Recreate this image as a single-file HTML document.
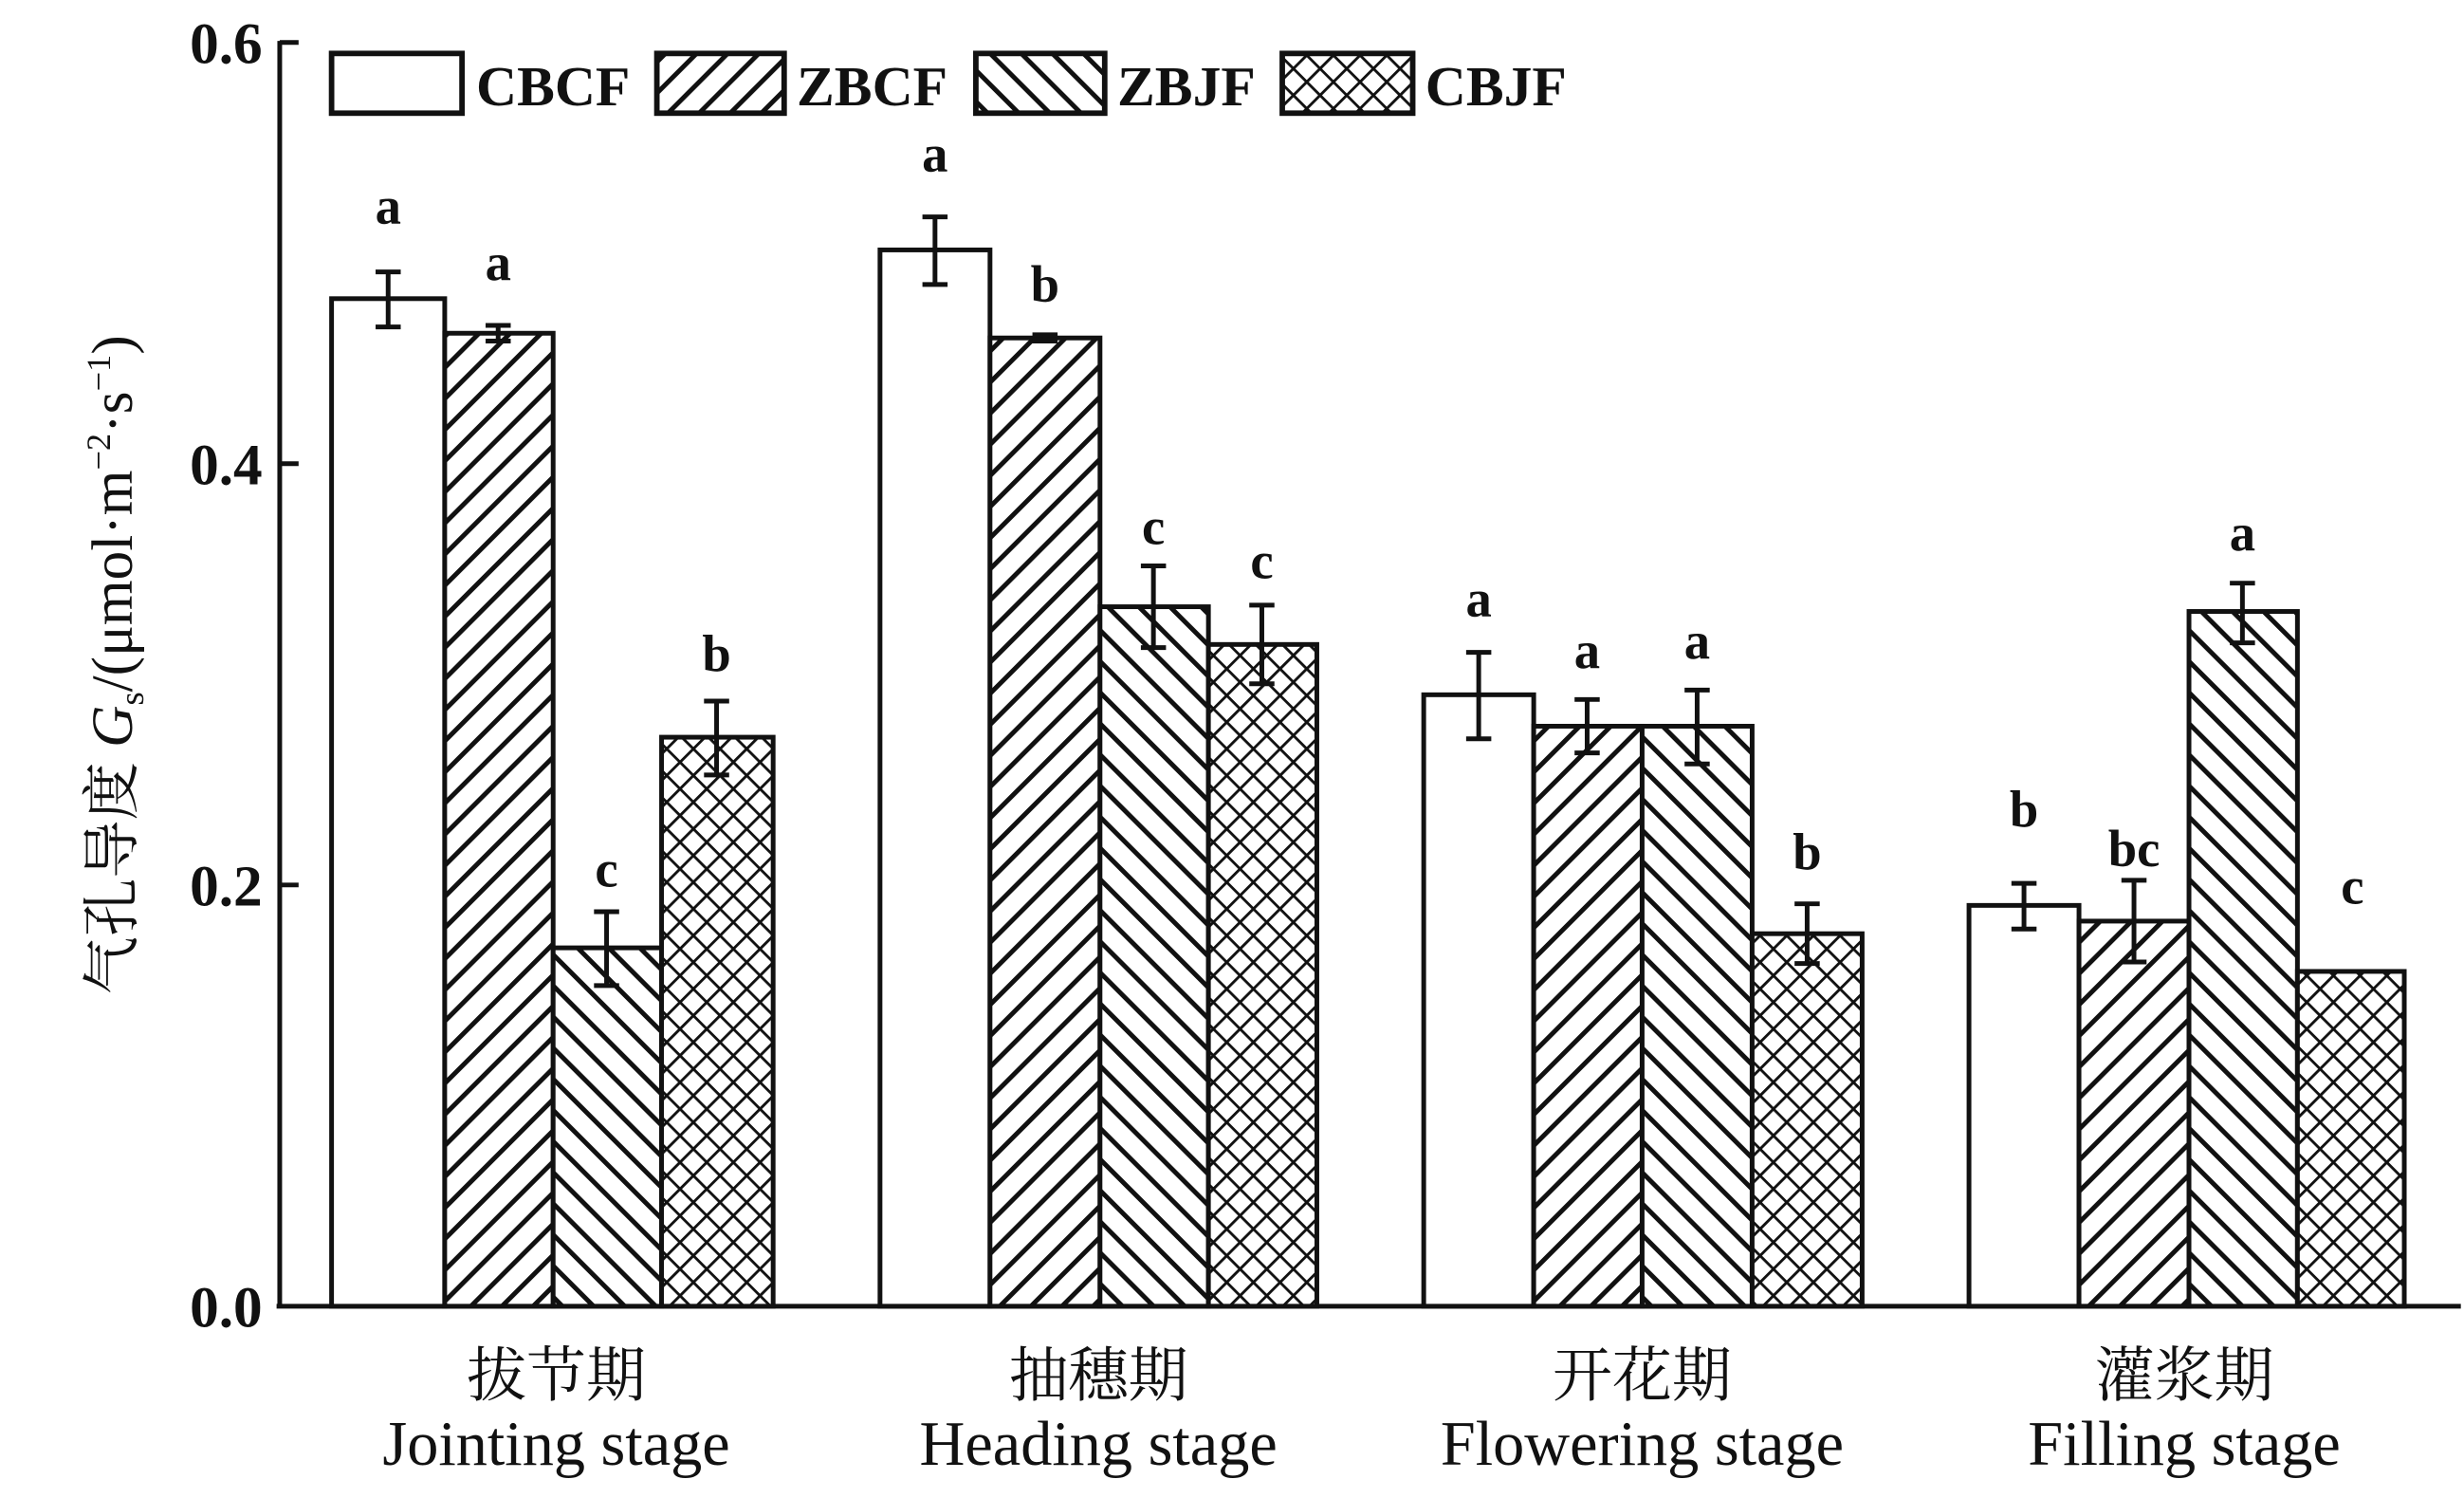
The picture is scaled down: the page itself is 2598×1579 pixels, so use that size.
<!DOCTYPE html>
<html><head><meta charset="utf-8"><style>html,body{margin:0;padding:0;background:#fff}svg{display:block}</style></head><body>
<svg width="2598" height="1579" viewBox="0 0 1568 953" xmlns="http://www.w3.org/2000/svg" font-family="'Liberation Serif','Noto Serif CJK SC',serif">
<defs>
<pattern id="fw" patternUnits="userSpaceOnUse" width="14" height="14" patternTransform="rotate(45)"><rect width="14" height="14" fill="#fff"/><line x1="0" y1="0" x2="0" y2="14" stroke="#111" stroke-width="6"/></pattern>
<pattern id="bw" patternUnits="userSpaceOnUse" width="14" height="14" patternTransform="rotate(-45)"><rect width="14" height="14" fill="#fff"/><line x1="0" y1="0" x2="0" y2="14" stroke="#111" stroke-width="6"/></pattern>
<pattern id="xw" patternUnits="userSpaceOnUse" width="12" height="12" patternTransform="rotate(45)"><rect width="12" height="12" fill="#fff"/><line x1="0" y1="0" x2="0" y2="12" stroke="#111" stroke-width="3.5"/><line x1="0" y1="0" x2="12" y2="0" stroke="#111" stroke-width="3.5"/></pattern>
</defs>
<rect width="1568" height="953" fill="#fff"/>
<g stroke="#111" stroke-width="3" fill="none">
<line x1="178" y1="26" x2="178" y2="832"/>
<line x1="176" y1="831" x2="1566" y2="831"/>
<line x1="178" y1="27" x2="190" y2="27"/><line x1="178" y1="295" x2="190" y2="295"/><line x1="178" y1="563" x2="190" y2="563"/>
</g>
<g font-size="37" font-weight="bold" text-anchor="end" fill="#111">
<text x="167" y="40">0.6</text><text x="167" y="308">0.4</text><text x="167" y="576">0.2</text><text x="167" y="844">0.0</text>
</g>
<text transform="translate(84,423) rotate(-90)" text-anchor="middle" font-size="37" fill="#111">气孔导度 <tspan font-style="italic">G</tspan><tspan font-size="22" dy="7">s</tspan><tspan dy="-7">/(μmol·m</tspan><tspan font-size="22" dy="-14">−2</tspan><tspan dy="14">·s</tspan><tspan font-size="22" dy="-14">−1</tspan><tspan dy="14">)</tspan></text>
<!-- legend -->
<g stroke="#111" stroke-width="3.5">
<rect x="211" y="34" width="83" height="38" fill="#fff"/>
<rect x="418" y="34" width="81" height="38" fill="url(#fw)"/>
<rect x="621" y="34" width="82" height="38" fill="url(#bw)"/>
<rect x="816" y="34" width="83" height="38" fill="url(#xw)"/>
</g>
<g font-size="36" font-weight="bold" fill="#111">
<text x="303" y="67">CBCF</text><text x="507" y="67">ZBCF</text><text x="711" y="67">ZBJF</text><text x="907" y="67">CBJF</text>
</g>
<!-- bars -->
<g stroke="#111" stroke-width="3">
<rect x="211" y="190" width="72" height="641" fill="#fff"/>
<rect x="283" y="212" width="69" height="619" fill="url(#fw)"/>
<rect x="352" y="603" width="69" height="228" fill="url(#bw)"/>
<rect x="421" y="469" width="71" height="362" fill="url(#xw)"/>
<rect x="560" y="159" width="70" height="672" fill="#fff"/>
<rect x="630" y="215" width="70" height="616" fill="url(#fw)"/>
<rect x="700" y="386" width="69" height="445" fill="url(#bw)"/>
<rect x="769" y="410" width="69" height="421" fill="url(#xw)"/>
<rect x="906" y="442" width="70" height="389" fill="#fff"/>
<rect x="976" y="462" width="69" height="369" fill="url(#fw)"/>
<rect x="1045" y="462" width="70" height="369" fill="url(#bw)"/>
<rect x="1115" y="594" width="70" height="237" fill="url(#xw)"/>
<rect x="1253" y="576" width="70" height="255" fill="#fff"/>
<rect x="1323" y="586" width="70" height="245" fill="url(#fw)"/>
<rect x="1393" y="389" width="69" height="442" fill="url(#bw)"/>
<rect x="1462" y="618" width="68" height="213" fill="url(#xw)"/>
</g>
<!-- error bars -->
<g stroke="#111" stroke-width="3" fill="none">
<path d="M247 173V208M239 173H255M239 208H255"/>
<path d="M317 207V217M309 207H325M309 217H325"/>
<path d="M386 580V627M378 580H394M378 627H394"/>
<path d="M456 446V493M448 446H464M448 493H464"/>
<path d="M595 138V181M587 138H603M587 181H603"/>
<path d="M665 213V217M657 213H673M657 217H673"/>
<path d="M734 360V412M726 360H742M726 412H742"/>
<path d="M803 385V435M795 385H811M795 435H811"/>
<path d="M941 415V470M933 415H949M933 470H949"/>
<path d="M1010 445V479M1002 445H1018M1002 479H1018"/>
<path d="M1080 439V486M1072 439H1088M1072 486H1088"/>
<path d="M1150 575V613M1142 575H1158M1142 613H1158"/>
<path d="M1288 562V591M1280 562H1296M1280 591H1296"/>
<path d="M1358 560V612M1350 560H1366M1350 612H1366"/>
<path d="M1427 371V409M1419 371H1435M1419 409H1435"/>
</g>
<g font-size="33" font-weight="bold" text-anchor="middle" fill="#111">
<text x="247" y="142">a</text><text x="317" y="178">a</text><text x="386" y="564">c</text><text x="456" y="427">b</text>
<text x="595" y="109">a</text><text x="665" y="192">b</text><text x="734" y="346">c</text><text x="803" y="368">c</text>
<text x="941" y="392">a</text><text x="1010" y="425">a</text><text x="1080" y="419">a</text><text x="1150" y="553">b</text>
<text x="1288" y="526">b</text><text x="1358" y="551">bc</text><text x="1427" y="350">a</text><text x="1497" y="575">c</text>
</g>
<g text-anchor="middle" fill="#111">
<g font-size="38">
<text x="354" y="888">拔节期</text><text x="699" y="888">抽穗期</text><text x="1045" y="888">开花期</text><text x="1390" y="888">灌浆期</text>
</g>
<g font-size="40">
<text x="354" y="932">Jointing stage</text><text x="699" y="932">Heading stage</text><text x="1045" y="932">Flowering stage</text><text x="1390" y="932">Filling stage</text>
</g>
</g>
</svg>
</body></html>
